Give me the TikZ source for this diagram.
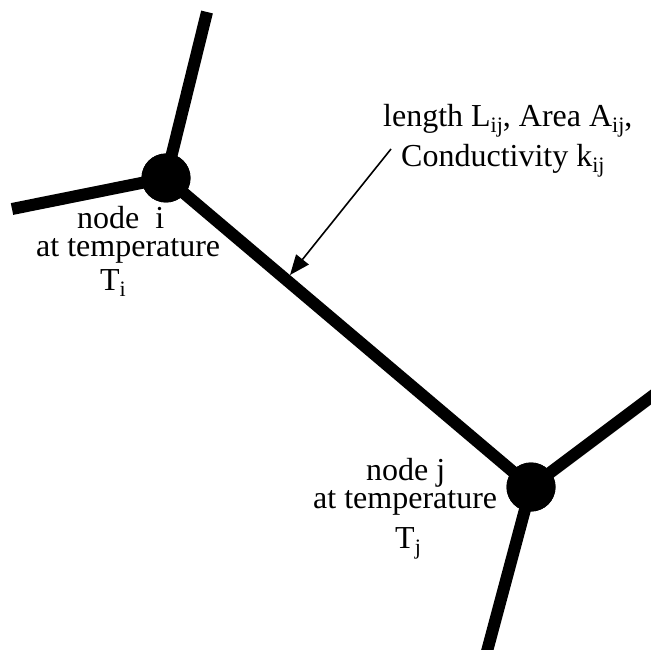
\documentclass[tikz,border=0pt]{standalone}
\usepackage{fontspec}
\setmainfont{Liberation Serif}
\usetikzlibrary{arrows.meta}
\newcommand\subt[1]{\raisebox{-6pt}{\fontsize{22}{22}\selectfont #1}}
\begin{document}
\begin{tikzpicture}[x=1pt,y=-1pt,
  rod/.style={line width=12pt,line cap=butt},
  junction/.style={circle,fill=black,minimum size=49pt,inner sep=0pt},
  lbl/.style={anchor=base west,inner sep=0pt,text height=21pt,text depth=2pt,font=\fontsize{32}{32}\selectfont}]
\useasboundingbox (0,0) rectangle (651,650);
\clip (0,0) rectangle (651,650);
% free ends
\coordinate (iu) at (207,12);
\coordinate (il) at (12,209);
\coordinate (jr) at (671,382);
\coordinate (jd) at (482,670);
\coordinate (a0) at (391,149);
\coordinate (a1) at (290,275);
% rods
\node[junction] (ni) at (166,178) {};
\node[junction] (nj) at (531,487) {};
\draw[rod] (ni.center) -- (iu);
\draw[rod] (ni.center) -- (il);
\draw[rod] (ni.center) -- (nj.center);
\draw[rod] (nj.center) -- (jr);
\draw[rod] (nj.center) -- (jd);
\node[junction] at (ni) {};
\node[junction] at (nj) {};
% arrow
\draw[line width=1.6pt,-{Triangle[length=20pt,width=16pt]}] (a0) -- (a1);
% labels
\node[lbl] (t1) at (383,127) {length L\subt{ij}, Area A\subt{ij},};
\node[lbl] (t2) at (401,167) {Conductivity k\subt{ij}};
\node[lbl] (i1) at (77,229) {node\ \ i};
\node[lbl] (i2) at (36,256) {at temperature};
\node[lbl] (i3) at (100,290) {T\subt{i}};
\node[lbl] (j1) at (366,480) {node j};
\node[lbl] (j2) at (313,508) {at temperature};
\node[lbl] (j3) at (395,548) {T\subt{j}};
\end{tikzpicture}
\end{document}
